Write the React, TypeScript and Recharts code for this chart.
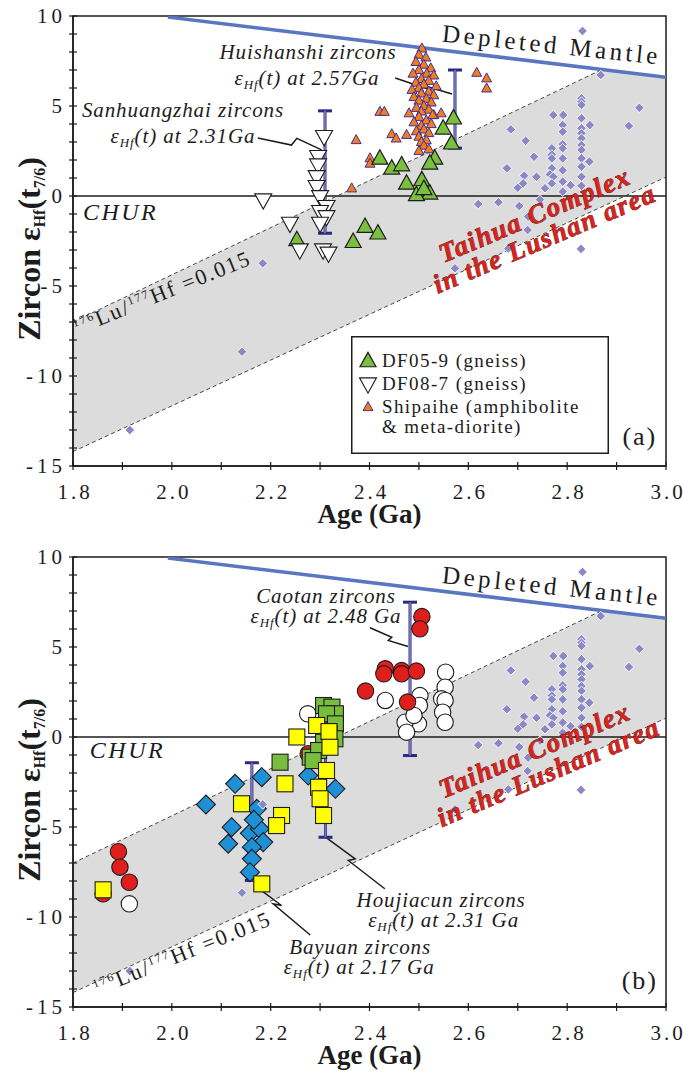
import React from 'react';
import {
  ComposedChart, Scatter, Line, Area, XAxis, YAxis, ErrorBar,
  ReferenceDot, ReferenceArea,
} from 'recharts';

const SERIF = '"Liberation Serif", "Times New Roman", serif';
const INK = '#1c1c1c';

type Pt = { age: number; eps: number };
const toPts = (rows: number[][]): Pt[] => rows.map(([age, eps]) => ({ age, eps }));

// axes
const ageTicks = [1.8, 1.9, 2.0, 2.1, 2.2, 2.3, 2.4, 2.5, 2.6, 2.7, 2.8, 2.9, 3.0];
const epsTicks = [-15, -14, -13, -12, -11, -10, -9, -8, -7, -6, -5, -4, -3, -2, -1, 0, 1, 2, 3, 4, 5, 6, 7, 8, 9, 10];

// evolution lines
const depletedMantle = toPts([[1.992, 9.94], [3.0, 6.6]]);
const chur = toPts([[1.8, 0], [3.0, 0]]);
const luHfUpper = toPts([[1.8, -7.0], [2.87, 7.02]]);
const luHfLower = toPts([[1.8, -14.2], [3.0, 1.05]]);
const luHfBand = [
  { age: 1.8, range: [-14.2, -7.0] },
  { age: 2.87, range: [-0.6, 7.02] },
  { age: 3.0, range: [1.05, 6.6] },
];

// Lushan gneiss & amphibolite (both panels)
const lushan = toPts([
  [2.831, 9.17], [2.868, 6.72], [2.946, 4.9], [2.925, 3.89], [2.686, 3.7], [2.716, 3.07],
  [2.733, 2.18], [2.678, 1.54], [2.713, 1.13], [2.738, 1.07], [2.7, 0.46], [2.711, 0.7],
  [2.755, 0.43], [2.772, 4.5], [2.792, 4.5], [2.791, 3.94], [2.791, 3.57], [2.769, 2.65],
  [2.791, 2.87], [2.791, 2.65], [2.769, 2.3], [2.769, 2.09], [2.791, 2.09], [2.769, 1.54],
  [2.791, 1.43], [2.765, 1.2], [2.772, 1.07], [2.769, 0.7], [2.791, 0.8], [2.807, 0.6],
  [2.791, 0.24], [2.829, 5.43], [2.829, 5.24], [2.829, 5.06], [2.829, 4.32], [2.829, 3.76],
  [2.829, 3.48], [2.829, 3.2], [2.829, 2.83], [2.829, 2.56], [2.829, 2.09], [2.829, 1.63],
  [2.829, 1.07], [2.829, 0.57], [2.846, 3.94], [2.845, 1.91], [2.62, -0.45], [2.661, -0.35],
  [2.703, -0.56], [2.745, -0.2], [2.721, -1.15], [2.72, -1.89], [2.681, -2.91], [2.828, -2.94],
  [2.573, -4.02], [2.184, -3.74], [2.142, -8.65], [1.915, -13.0],
]);

// panel (a)
const df05_9 = toPts([
  [2.57, 4.32], [2.549, 3.76], [2.566, 2.93], [2.421, 2.09], [2.445, 1.54], [2.465, 1.72],
  [2.532, 2.09], [2.522, 1.81], [2.506, 0.89], [2.475, 0.7], [2.522, 0.15], [2.495, 0.06],
  [2.391, -1.7], [2.417, -2.07], [2.367, -2.54], [2.253, -2.44], [2.51, 0.4],
]);
const df08_7 = toPts([
  [2.308, 3.3], [2.296, 2.19], [2.296, 1.72], [2.293, 1.07], [2.293, 0.52], [2.185, -0.22],
  [2.3, -0.04], [2.313, -0.59], [2.3, -0.87], [2.313, -1.15], [2.239, -1.52], [2.3, -1.52],
  [2.259, -3.0], [2.306, -3.0], [2.317, -3.18],
]);
const shipaihe = toPts([
  [2.506, 8.2], [2.5, 7.85], [2.514, 7.7], [2.494, 7.45], [2.51, 7.3], [2.524, 7.1], [2.5, 7.0],
  [2.488, 6.8], [2.516, 6.8], [2.53, 6.7], [2.505, 6.5], [2.52, 6.4], [2.494, 6.3], [2.51, 6.2],
  [2.535, 6.1], [2.5, 6.0], [2.486, 5.9], [2.52, 5.8], [2.505, 5.7], [2.53, 5.6], [2.49, 5.5],
  [2.515, 5.4], [2.5, 5.3], [2.525, 5.2], [2.51, 5.0], [2.495, 4.9], [2.52, 4.8], [2.505, 4.7],
  [2.48, 4.6], [2.53, 4.5], [2.5, 4.4], [2.515, 4.2], [2.49, 4.1], [2.525, 4.0], [2.505, 3.9],
  [2.51, 3.7], [2.495, 3.6], [2.52, 3.5], [2.5, 3.3], [2.515, 3.1], [2.505, 3.0], [2.51, 2.8],
  [2.52, 2.6], [2.5, 2.5], [2.475, 3.4], [2.545, 4.6], [2.528, 4.5], [2.617, 6.85], [2.637, 6.54],
  [2.637, 5.98], [2.421, 4.68], [2.43, 4.68], [2.373, 3.11], [2.445, 3.44], [2.454, 3.2],
  [2.401, 2.1], [2.401, 1.8], [2.364, 0.43],
]);
const barsA = [
  { age: 2.31, eps: 1.33, err: 3.4 },
  { age: 2.573, eps: 4.83, err: 2.17 },
];
const leaderHuishanshi = toPts([[2.452, 6.56], [2.518, 5.94], [2.506, 6.17], [2.567, 5.67]]);
const leaderSanhuangzhai = toPts([[2.174, 3.22], [2.242, 2.83], [2.253, 3.2], [2.303, 2.56]]);

// panel (b)
const thb05_103 = toPts([
  [2.069, -3.75], [2.128, -2.6], [2.182, -2.23], [2.172, -3.99], [2.121, -5.01], [2.114, -5.93],
  [2.158, -5.35], [2.178, -5.1], [2.185, -5.84], [2.162, -6.12], [2.162, -6.77], [2.158, -7.51],
  [2.276, -2.14], [2.331, -2.88], [2.166, -4.6],
]);
const thh05_97 = toPts([
  [2.554, 3.6], [2.553, 2.77], [2.546, 2.12], [2.553, 2.03], [2.548, 1.38], [2.553, 0.82],
  [2.432, 2.03], [2.502, 2.3], [2.501, 1.75], [2.499, 0.73], [2.472, 0.82], [2.475, 0.27],
  [2.49, 1.2], [2.275, 1.29], [1.914, -9.27],
]);
const thh08_62 = toPts([
  [2.506, 6.69], [2.502, 6.01], [2.432, 3.79], [2.429, 3.51], [2.465, 3.69], [2.465, 3.51],
  [2.495, 3.66], [2.392, 2.55], [2.477, 1.94], [1.892, -6.37], [1.895, -7.23], [1.914, -8.07],
  [1.861, -8.71], [2.276, -0.93],
]);
const thq08_76 = toPts([
  [2.307, 1.75], [2.324, 1.66], [2.331, 1.29], [2.313, 1.29], [2.331, 0.73], [2.318, 0.2],
  [2.33, -0.1], [2.219, -1.4], [2.28, -1.12], [2.307, -0.29], [2.297, -0.75], [2.286, -1.31],
]);
const thq08_82 = toPts([
  [2.253, 0.0], [2.293, 0.64], [2.318, 0.3], [2.32, -0.57], [2.313, -1.86], [2.297, -2.79],
  [2.3, -3.43], [2.307, -4.36], [2.229, -2.6], [2.141, -3.71], [2.222, -4.36], [2.212, -4.92],
  [2.182, -8.16], [1.861, -8.49],
]);
const barsB = [
  { age: 2.482, eps: 3.23, err: 4.26 },
  { age: 2.311, eps: -1.77, err: 3.8 },
  { age: 2.162, eps: -4.7, err: 3.27 },
];
const leaderCaotan = toPts([[2.401, 6.07], [2.445, 5.54], [2.438, 5.36], [2.478, 5.03]]);
const leaderHoujiacun = toPts([[2.313, -5.6], [2.371, -6.77], [2.357, -6.86], [2.431, -8.43]]);
const leaderBayuan = toPts([[2.172, -8.34], [2.222, -9.36], [2.205, -9.27], [2.28, -11.0]]);

// marker shapes
const triUp = (fill: string, stroke: string, w: number, sw: number) => (p: any) => {
  const h = w * 0.9;
  return (
    <polygon
      points={`${p.cx},${p.cy - h * 0.6} ${p.cx + w / 2},${p.cy + h * 0.4} ${p.cx - w / 2},${p.cy + h * 0.4}`}
      fill={fill} stroke={stroke} strokeWidth={sw} />
  );
};
const triDown = (fill: string, stroke: string, w: number, sw: number) => (p: any) => {
  const h = w * 0.9;
  return (
    <polygon
      points={`${p.cx - w / 2},${p.cy - h * 0.4} ${p.cx + w / 2},${p.cy - h * 0.4} ${p.cx},${p.cy + h * 0.6}`}
      fill={fill} stroke={stroke} strokeWidth={sw} />
  );
};
const diamond = (fill: string, stroke: string, r: number, sw: number) => (p: any) => (
  <polygon
    points={`${p.cx},${p.cy - r} ${p.cx + r},${p.cy} ${p.cx},${p.cy + r} ${p.cx - r},${p.cy}`}
    fill={fill} stroke={stroke} strokeWidth={sw} />
);
const circle = (fill: string) => (p: any) => (
  <circle cx={p.cx} cy={p.cy} r={8.2} fill={fill} stroke={INK} strokeWidth={1.1} />
);
const square = (fill: string) => (p: any) => (
  <rect x={p.cx - 8} y={p.cy - 8} width={16} height={16} fill={fill} stroke={INK} strokeWidth={1.1} />
);

const greenTri = triUp('#7abf3e', INK, 16, 1.2);
const whiteTri = triDown('#ffffff', INK, 17, 1.1);
const orangeTri = triUp('#f07e1c', '#3f2f9c', 10, 1);
const lushanDiamond = diamond('#8c87c7', '#ffffff', 4.8, 0.9);
const blueDiamond = diamond('#1f8fd6', INK, 9.5, 1.1);
const redCircle = circle('#e01e1c');
const whiteCircle = circle('#ffffff');
const greenSquare = square('#78bd3c');
const yellowSquare = square('#ffff00');
const noMark = () => <g />;

// axis ticks that cross the axis line, labels every 5 units / 0.2 Ga
const YTick = (props: any) => {
  const { x, y, payload } = props;
  const v = payload.value;
  const major = v % 5 === 0;
  return (
    <g>
      <line x1={x - 4} x2={x + 4} y1={y} y2={y} stroke={INK} strokeWidth={1.2} />
      {major && (
        <text x={x - 7} y={y} dy="0.35em" textAnchor="end" fontFamily={SERIF} fontSize={21}
          letterSpacing={4} fill={INK}>{v}</text>
      )}
    </g>
  );
};
const XTick = (props: any) => {
  const { x, y, payload } = props;
  const v = payload.value;
  const major = Math.round(v * 10) % 2 === 0;
  return (
    <g>
      <line x1={x} x2={x} y1={y - 4} y2={y + 4} stroke={INK} strokeWidth={1.2} />
      {major && (
        <text x={x + 2} y={y + 33} textAnchor="middle" fontFamily={SERIF} fontSize={21}
          letterSpacing={3} fill={INK}>{v.toFixed(1)}</text>
      )}
    </g>
  );
};

const yTitle = (props: any) => {
  const vb = props.viewBox;
  const x = vb.x + 40;
  const y = vb.y + vb.height / 2 + 8;
  return (
    <text x={x} y={y} transform={`rotate(-90 ${x} ${y})`} textAnchor="middle" fontFamily={SERIF}
      fontWeight="bold" fontSize={32} fill={INK}>
      Zircon ε<tspan fontSize={16} dy={5}>Hf</tspan><tspan dy={-5}>(t</tspan>
      <tspan fontSize={16} dy={5}>7/6</tspan><tspan dy={-5}>)</tspan>
    </text>
  );
};
const xTitle = (props: any) => {
  const vb = props.viewBox;
  return (
    <text x={vb.x + vb.width / 2} y={vb.y + 57} textAnchor="middle" fontFamily={SERIF}
      fontWeight="bold" fontSize={27} fill={INK}>Age (Ga)</text>
  );
};

// text pinned to a data position
const note = (key: string, age: number, eps: number, draw: (x: number, y: number) => React.ReactNode) => (
  <ReferenceDot key={key} x={age} y={eps} r={0} ifOverflow="visible"
    shape={(p: any) => <g>{draw(p.cx, p.cy)}</g>} />
);
const italic = (text: string) => (x: number, y: number) => (
  <text x={x} y={y} textAnchor="middle" fontFamily={SERIF} fontStyle="italic" fontSize={21}
    letterSpacing={0.9} fill={INK}>{text}</text>
);
const epsAt = (tail: string) => (x: number, y: number) => (
  <text x={x} y={y} textAnchor="middle" fontFamily={SERIF} fontStyle="italic" fontSize={21}
    letterSpacing={0.9} fill={INK}>
    ε<tspan fontSize={13} dy={4}>Hf</tspan><tspan dy={-4}>{tail}</tspan>
  </text>
);
const churText = (x: number, y: number) => (
  <text x={x} y={y} fontFamily={SERIF} fontStyle="italic" fontSize={24} letterSpacing={2.5} fill={INK}>CHUR</text>
);
const mantleText = (x: number, y: number) => (
  <text x={x} y={y} transform={`rotate(6 ${x} ${y})`} textAnchor="middle" fontFamily={SERIF}
    fontSize={25} letterSpacing={3.5} fill={INK}>Depleted Mantle</text>
);
const luHfText = (x: number, y: number) => (
  <text x={x} y={y} transform={`rotate(-22 ${x} ${y})`} fontFamily={SERIF} fontSize={22}
    letterSpacing={1.8} fill={INK}>
    <tspan fontSize={12} dy={-8}>176</tspan><tspan dy={8}>Lu/</tspan>
    <tspan fontSize={12} dy={-8}>177</tspan><tspan dy={8}>Hf =0.015</tspan>
  </text>
);
const redText = (text: string) => (x: number, y: number) => (
  <text x={x} y={y} transform={`rotate(-23 ${x} ${y})`} textAnchor="middle" fontFamily={SERIF}
    fontStyle="italic" fontWeight="bold" fontSize={27} letterSpacing={1.5} fill="#d8231c"
    stroke="#4a0a08" strokeWidth={0.7} paintOrder="stroke">{text}</text>
);
const tagText = (text: string) => (x: number, y: number) => (
  <text x={x} y={y} textAnchor="middle" fontFamily={SERIF} fontSize={26} letterSpacing={2} fill={INK}>{text}</text>
);

// shared axes, frame and evolution lines
const frame = () => [
  <XAxis key="x" type="number" dataKey="age" domain={[1.8, 3.0]} ticks={ageTicks} interval={0}
    allowDataOverflow height={60} tickSize={0} tickMargin={0} tick={<XTick />}
    axisLine={{ stroke: INK, strokeWidth: 1.5 }} tickLine={false} label={xTitle} />,
  <YAxis key="y" type="number" domain={[-15, 10]} ticks={epsTicks} interval={0} allowDataOverflow
    width={73} tickSize={0} tickMargin={0} tick={<YTick />}
    axisLine={{ stroke: INK, strokeWidth: 1.5 }} tickLine={false} label={yTitle} />,
  <Area key="band" data={luHfBand} dataKey="range" type="linear" stroke="none" fill="#dcdcdc"
    fillOpacity={1} isAnimationActive={false} />,
  <Line key="up" data={luHfUpper} dataKey="eps" type="linear" stroke="#333" strokeWidth={0.9}
    strokeDasharray="4 3" dot={false} isAnimationActive={false} />,
  <Line key="lo" data={luHfLower} dataKey="eps" type="linear" stroke="#333" strokeWidth={0.9}
    strokeDasharray="4 3" dot={false} isAnimationActive={false} />,
  <Line key="dm" data={depletedMantle} dataKey="eps" type="linear" stroke="#5a76c0" strokeWidth={3.5}
    dot={false} isAnimationActive={false} />,
  <Line key="chur" data={chur} dataKey="eps" type="linear" stroke={INK} strokeWidth={1.3}
    dot={false} isAnimationActive={false} />,
  <ReferenceArea key="box" x1={1.8} x2={3.0} y1={-15} y2={10} fill="none" stroke={INK}
    strokeWidth={1.5} ifOverflow="visible" />,
];

const leader = (key: string, data: Pt[]) => (
  <Line key={key} data={data} dataKey="eps" type="linear" stroke={INK} strokeWidth={1.5}
    dot={false} isAnimationActive={false} />
);

const bars = (key: string, data: any[]) => (
  <Scatter key={key} data={data} dataKey="eps" shape={noMark} isAnimationActive={false}>
    <ErrorBar dataKey="err" direction="y" width={7} stroke="#2b2a82" strokeWidth={3} />
    <ErrorBar dataKey="err" direction="y" width={0} stroke="#7d73bb" strokeWidth={1.8} />
  </Scatter>
);

const legendText = (x: number, y: number, text: string, spacing: number) => (
  <text x={x} y={y} fontFamily={SERIF} fontSize={19} letterSpacing={spacing} fill={INK}>{text}</text>
);

function LegendA() {
  return (
    <svg width={258} height={118} style={{ position: 'absolute', left: 351, top: 336 }}>
      <rect x={0.75} y={0.75} width={256.5} height={116.5} fill="#fff" stroke={INK} strokeWidth={1.5} />
      {greenTri({ cx: 17, cy: 25 })}
      {legendText(31, 31, 'DF05-9 (gneiss)', 1.4)}
      {whiteTri({ cx: 17, cy: 48 })}
      {legendText(31, 54, 'DF08-7 (gneiss)', 1.4)}
      {orangeTri({ cx: 17, cy: 71 })}
      {legendText(31, 77, 'Shipaihe (amphibolite', 1.4)}
      {legendText(31, 97, '& meta-diorite)', 1.4)}
    </svg>
  );
}

function LegendB() {
  const rows: [(p: any) => React.ReactNode, string][] = [
    [blueDiamond, 'THB05-103'],
    [whiteCircle, 'THH05-97'],
    [redCircle, 'THH08-62'],
    [greenSquare, 'THQ08-76'],
    [yellowSquare, 'THQ08-82'],
    [lushanDiamond, 'Lushan gneiss'],
  ];
  return (
    <svg width={166} height={171} style={{ position: 'absolute', left: 80, top: 561 }}>
      <rect x={0.75} y={0.75} width={164.5} height={169.5} fill="#fff" stroke={INK} strokeWidth={1.5} />
      {rows.map(([shape, label], i) => (
        <g key={label}>
          {shape({ cx: 17, cy: 17 + i * 23.4 })}
          {legendText(35, 23 + i * 23.4, label, 2.6)}
        </g>
      ))}
      {legendText(35, 164, '& amphibolite', 2.6)}
    </svg>
  );
}

const margin = { top: 16, right: 17, bottom: 14, left: 0 };

export default function App() {
  return (
    <div style={{ position: 'absolute', left: 0, top: 0, width: 683, height: 1080, background: '#fff' }}>
      <div style={{ position: 'absolute', left: 0, top: 0 }}>
        <ComposedChart width={683} height={540} margin={margin}>
          {frame()}
          {leader('l1', leaderHuishanshi)}
          {leader('l2', leaderSanhuangzhai)}
          <Scatter data={lushan} dataKey="eps" shape={lushanDiamond} isAnimationActive={false} />
          <Scatter data={shipaihe} dataKey="eps" shape={orangeTri} isAnimationActive={false} />
          <Scatter data={df05_9} dataKey="eps" shape={greenTri} isAnimationActive={false} />
          <Scatter data={df08_7} dataKey="eps" shape={whiteTri} isAnimationActive={false} />
          {bars('ba', barsA)}
          {note('dm', 2.767, 7.94, mantleText)}
          {note('h1', 2.2755, 7.61, italic('Huishanshi zircons'))}
          {note('h2', 2.2735, 6.17, epsAt('(t) at 2.57Ga'))}
          {note('s1', 2.0226, 4.39, italic('Sanhuangzhai zircons'))}
          {note('s2', 2.0226, 2.94, epsAt('(t) at 2.31Ga'))}
          {note('chur', 1.82, -1.33, churText)}
          {note('lu', 1.808, -7.72, luHfText)}
          {note('t1', 2.741, -1.5, redText('Taihua Complex'))}
          {note('t2', 2.761, -2.83, redText('in the Lushan area'))}
          {note('tag', 2.947, -13.83, tagText('(a)'))}
        </ComposedChart>
        <LegendA />
      </div>
      <div style={{ position: 'absolute', left: 0, top: 540 }}>
        <ComposedChart width={683} height={540} margin={{ ...margin, top: 17, bottom: 13 }}>
          {frame()}
          {leader('l1', leaderCaotan)}
          {leader('l2', leaderHoujiacun)}
          {leader('l3', leaderBayuan)}
          <Scatter data={thb05_103} dataKey="eps" shape={blueDiamond} isAnimationActive={false} />
          <Scatter data={thh05_97} dataKey="eps" shape={whiteCircle} isAnimationActive={false} />
          <Scatter data={thh08_62} dataKey="eps" shape={redCircle} isAnimationActive={false} />
          <Scatter data={thq08_76} dataKey="eps" shape={greenSquare} isAnimationActive={false} />
          <Scatter data={thq08_82} dataKey="eps" shape={yellowSquare} isAnimationActive={false} />
          <Scatter data={lushan} dataKey="eps" shape={lushanDiamond} isAnimationActive={false} />
          {bars('bb', barsB)}
          {note('dm', 2.767, 7.92, mantleText)}
          {note('c1', 2.312, 7.42, italic('Caotan zircons'))}
          {note('c2', 2.312, 6.36, epsAt('(t) at 2.48 Ga'))}
          {note('j1', 2.545, -9.45, italic('Houjiacun zircons'))}
          {note('j2', 2.55, -10.57, epsAt('(t) at 2.31 Ga'))}
          {note('b1', 2.381, -12.08, italic('Bayuan zircons'))}
          {note('b2', 2.379, -13.16, epsAt('(t) at 2.17 Ga'))}
          {note('chur', 1.834, -1.19, churText)}
          {note('lu', 1.849, -14.36, luHfText)}
          {note('t1', 2.741, -1.19, redText('Taihua Complex'))}
          {note('t2', 2.769, -2.42, redText('in the Lushan area'))}
          {note('tag', 2.947, -14.0, tagText('(b)'))}
        </ComposedChart>
        <LegendB />
      </div>
    </div>
  );
}
